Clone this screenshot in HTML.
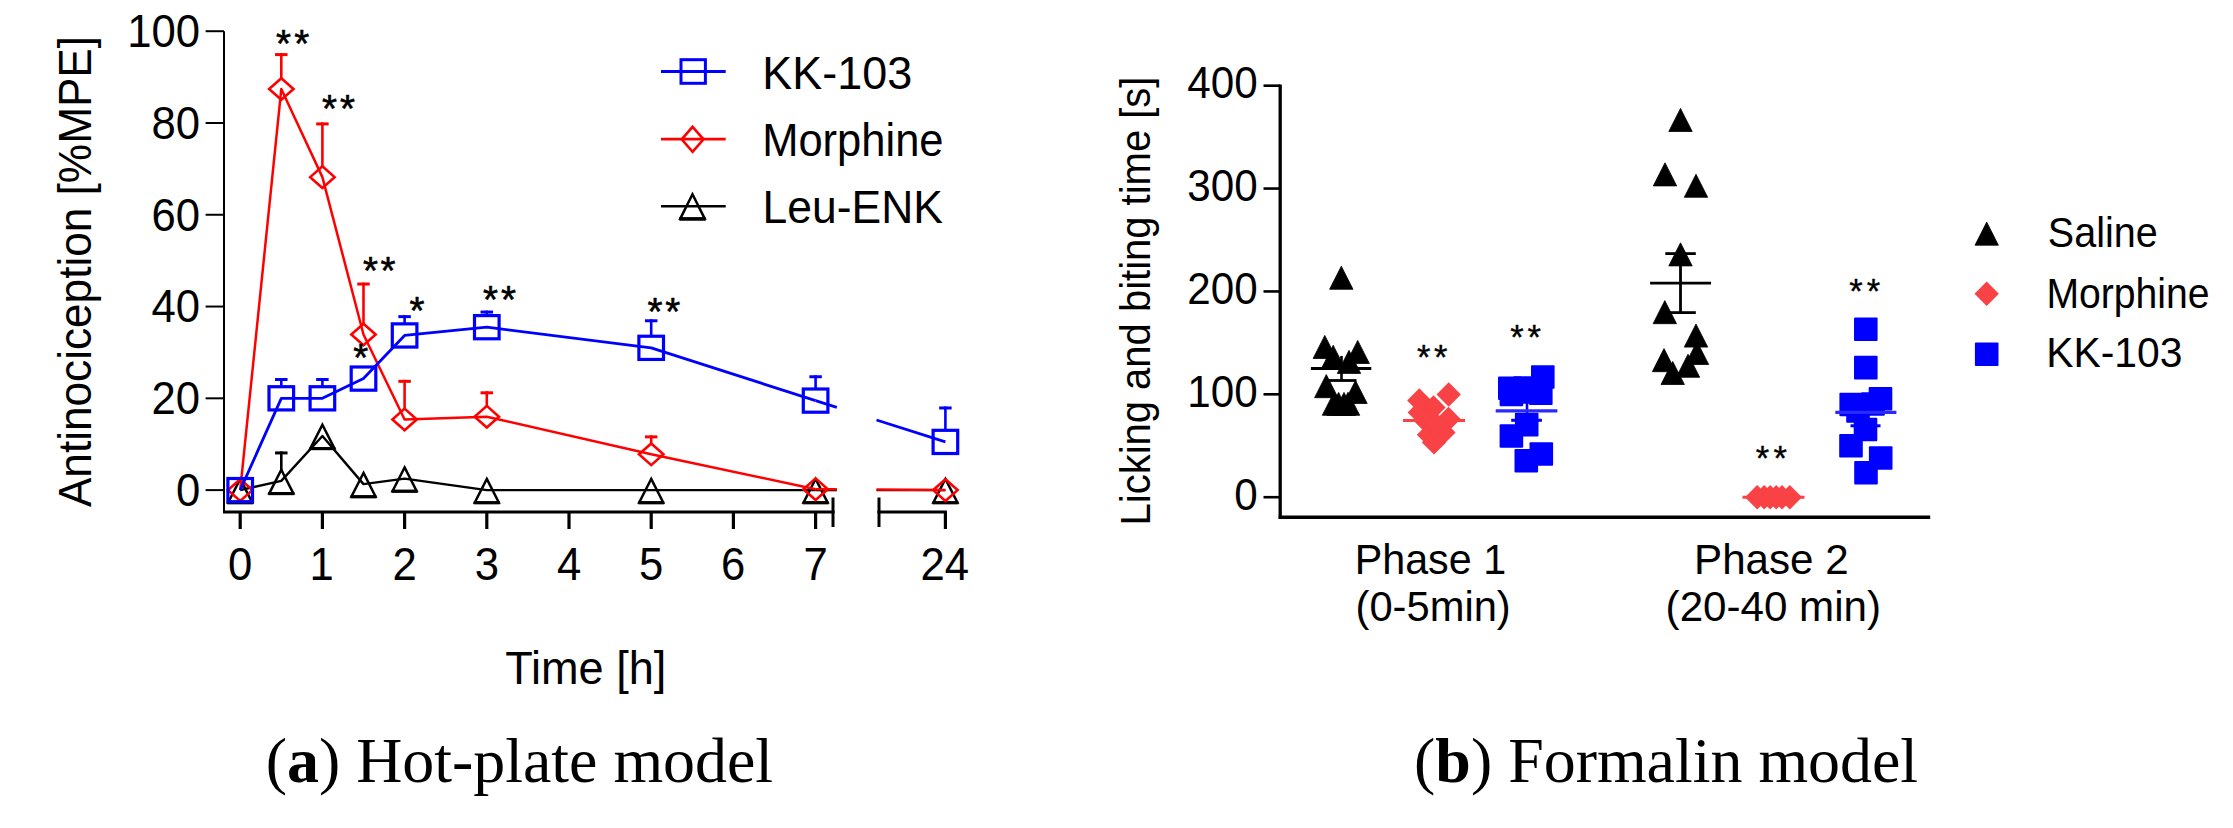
<!DOCTYPE html>
<html><head><meta charset="utf-8"><title>Figure</title>
<style>html,body{margin:0;padding:0;background:#fff;overflow:hidden}svg{display:block}</style>
</head><body>
<svg width="2233" height="828" viewBox="0 0 2233 828">
<rect width="2233" height="828" fill="#fff"/>
<line x1="224" y1="31.2" x2="224" y2="513" stroke="#000" stroke-width="2" stroke-linecap="butt"/>
<line x1="205.6" y1="490.1" x2="224" y2="490.1" stroke="#000" stroke-width="2" stroke-linecap="butt"/>
<line x1="205.6" y1="398.32" x2="224" y2="398.32" stroke="#000" stroke-width="2" stroke-linecap="butt"/>
<line x1="205.6" y1="306.54" x2="224" y2="306.54" stroke="#000" stroke-width="2" stroke-linecap="butt"/>
<line x1="205.6" y1="214.76" x2="224" y2="214.76" stroke="#000" stroke-width="2" stroke-linecap="butt"/>
<line x1="205.6" y1="122.98" x2="224" y2="122.98" stroke="#000" stroke-width="2" stroke-linecap="butt"/>
<line x1="205.6" y1="31.2" x2="224" y2="31.2" stroke="#000" stroke-width="2" stroke-linecap="butt"/>
<line x1="223" y1="512" x2="834.5" y2="512" stroke="#000" stroke-width="3" stroke-linecap="butt"/>
<line x1="833" y1="497.5" x2="833" y2="527" stroke="#000" stroke-width="3" stroke-linecap="butt"/>
<line x1="877.5" y1="512" x2="946.9" y2="512" stroke="#000" stroke-width="3" stroke-linecap="butt"/>
<line x1="879" y1="497.5" x2="879" y2="527" stroke="#000" stroke-width="3" stroke-linecap="butt"/>
<line x1="240.2" y1="512" x2="240.2" y2="529" stroke="#000" stroke-width="3.2" stroke-linecap="butt"/>
<line x1="322.4" y1="512" x2="322.4" y2="529" stroke="#000" stroke-width="3.2" stroke-linecap="butt"/>
<line x1="404.6" y1="512" x2="404.6" y2="529" stroke="#000" stroke-width="3.2" stroke-linecap="butt"/>
<line x1="486.8" y1="512" x2="486.8" y2="529" stroke="#000" stroke-width="3.2" stroke-linecap="butt"/>
<line x1="569" y1="512" x2="569" y2="529" stroke="#000" stroke-width="3.2" stroke-linecap="butt"/>
<line x1="651.2" y1="512" x2="651.2" y2="529" stroke="#000" stroke-width="3.2" stroke-linecap="butt"/>
<line x1="733.4" y1="512" x2="733.4" y2="529" stroke="#000" stroke-width="3.2" stroke-linecap="butt"/>
<line x1="815.6" y1="512" x2="815.6" y2="529" stroke="#000" stroke-width="3.2" stroke-linecap="butt"/>
<line x1="945.4" y1="512" x2="945.4" y2="529" stroke="#000" stroke-width="3.2" stroke-linecap="butt"/>
<text transform="translate(175.93,505.93) scale(0.95,1)" font-family="'Liberation Sans', Arial, sans-serif" font-size="46" fill="#000">0</text>
<text transform="translate(151.55,414.15) scale(0.95,1)" font-family="'Liberation Sans', Arial, sans-serif" font-size="46" fill="#000">20</text>
<text transform="translate(151.55,322.37) scale(0.95,1)" font-family="'Liberation Sans', Arial, sans-serif" font-size="46" fill="#000">40</text>
<text transform="translate(151.55,230.59) scale(0.95,1)" font-family="'Liberation Sans', Arial, sans-serif" font-size="46" fill="#000">60</text>
<text transform="translate(151.55,138.81) scale(0.95,1)" font-family="'Liberation Sans', Arial, sans-serif" font-size="46" fill="#000">80</text>
<text transform="translate(127.17,47.03) scale(0.95,1)" font-family="'Liberation Sans', Arial, sans-serif" font-size="46" fill="#000">100</text>
<text transform="translate(228.01,579.9) scale(0.95,1)" font-family="'Liberation Sans', Arial, sans-serif" font-size="46" fill="#000">0</text>
<text transform="translate(309.61,579.9) scale(0.95,1)" font-family="'Liberation Sans', Arial, sans-serif" font-size="46" fill="#000">1</text>
<text transform="translate(392.41,579.9) scale(0.95,1)" font-family="'Liberation Sans', Arial, sans-serif" font-size="46" fill="#000">2</text>
<text transform="translate(474.74,579.9) scale(0.95,1)" font-family="'Liberation Sans', Arial, sans-serif" font-size="46" fill="#000">3</text>
<text transform="translate(556.95,579.9) scale(0.95,1)" font-family="'Liberation Sans', Arial, sans-serif" font-size="46" fill="#000">4</text>
<text transform="translate(639.05,579.9) scale(0.95,1)" font-family="'Liberation Sans', Arial, sans-serif" font-size="46" fill="#000">5</text>
<text transform="translate(721.06,579.9) scale(0.95,1)" font-family="'Liberation Sans', Arial, sans-serif" font-size="46" fill="#000">6</text>
<text transform="translate(803.39,579.9) scale(0.95,1)" font-family="'Liberation Sans', Arial, sans-serif" font-size="46" fill="#000">7</text>
<text transform="translate(920.56,579.9) scale(0.95,1)" font-family="'Liberation Sans', Arial, sans-serif" font-size="46" fill="#000">24</text>
<text transform="translate(505.18,683.5) scale(0.98,1)" font-family="'Liberation Sans', Arial, sans-serif" font-size="46" fill="#000">Time [h]</text>
<text transform="translate(90.8,507.09) rotate(-90) scale(0.96,1)" font-family="'Liberation Sans', Arial, sans-serif" font-size="46" fill="#000">Antinociception [%MPE]</text>
<polyline points="240.2,490.1 281.3,480.92 322.4,435.95 363.5,484.13 404.6,478.63 486.8,490.1 651.2,490.1 815.6,490.1" fill="none" stroke="#000" stroke-width="2.4" stroke-linejoin="round"/>
<line x1="815.6" y1="490.1" x2="836.8" y2="490.1" stroke="#000" stroke-width="2.4" stroke-linecap="butt"/>
<line x1="876.5" y1="490.1" x2="945.4" y2="490.1" stroke="#000" stroke-width="2.4" stroke-linecap="butt"/>
<line x1="281.3" y1="470.92" x2="281.3" y2="451.43" stroke="#000" stroke-width="2.6" stroke-linecap="butt"/>
<line x1="275.05" y1="452.93" x2="287.55" y2="452.93" stroke="#000" stroke-width="3" stroke-linecap="butt"/>
<path d="M240.2 478.9L252.2 502.5L228.2 502.5Z" fill="none" stroke="#000" stroke-width="2.5" stroke-linejoin="miter" stroke-miterlimit="10"/>
<line x1="227.2" y1="502.8" x2="253.2" y2="502.8" stroke="#000" stroke-width="3.1" stroke-linecap="butt"/>
<path d="M281.3 469.72L293.3 493.32L269.3 493.32Z" fill="none" stroke="#000" stroke-width="2.5" stroke-linejoin="miter" stroke-miterlimit="10"/>
<line x1="268.3" y1="493.62" x2="294.3" y2="493.62" stroke="#000" stroke-width="3.1" stroke-linecap="butt"/>
<path d="M322.4 424.75L334.4 448.35L310.4 448.35Z" fill="none" stroke="#000" stroke-width="2.5" stroke-linejoin="miter" stroke-miterlimit="10"/>
<line x1="309.4" y1="448.65" x2="335.4" y2="448.65" stroke="#000" stroke-width="3.1" stroke-linecap="butt"/>
<path d="M363.5 472.93L375.5 496.53L351.5 496.53Z" fill="none" stroke="#000" stroke-width="2.5" stroke-linejoin="miter" stroke-miterlimit="10"/>
<line x1="350.5" y1="496.83" x2="376.5" y2="496.83" stroke="#000" stroke-width="3.1" stroke-linecap="butt"/>
<path d="M404.6 467.43L416.6 491.03L392.6 491.03Z" fill="none" stroke="#000" stroke-width="2.5" stroke-linejoin="miter" stroke-miterlimit="10"/>
<line x1="391.6" y1="491.33" x2="417.6" y2="491.33" stroke="#000" stroke-width="3.1" stroke-linecap="butt"/>
<path d="M486.8 478.9L498.8 502.5L474.8 502.5Z" fill="none" stroke="#000" stroke-width="2.5" stroke-linejoin="miter" stroke-miterlimit="10"/>
<line x1="473.8" y1="502.8" x2="499.8" y2="502.8" stroke="#000" stroke-width="3.1" stroke-linecap="butt"/>
<path d="M651.2 478.9L663.2 502.5L639.2 502.5Z" fill="none" stroke="#000" stroke-width="2.5" stroke-linejoin="miter" stroke-miterlimit="10"/>
<line x1="638.2" y1="502.8" x2="664.2" y2="502.8" stroke="#000" stroke-width="3.1" stroke-linecap="butt"/>
<path d="M815.6 478.9L827.6 502.5L803.6 502.5Z" fill="none" stroke="#000" stroke-width="2.5" stroke-linejoin="miter" stroke-miterlimit="10"/>
<line x1="802.6" y1="502.8" x2="828.6" y2="502.8" stroke="#000" stroke-width="3.1" stroke-linecap="butt"/>
<path d="M945.4 478.9L957.4 502.5L933.4 502.5Z" fill="none" stroke="#000" stroke-width="2.5" stroke-linejoin="miter" stroke-miterlimit="10"/>
<line x1="932.4" y1="502.8" x2="958.4" y2="502.8" stroke="#000" stroke-width="3.1" stroke-linecap="butt"/>
<polyline points="240.2,490.1 281.3,89.02 322.4,177.13 363.5,334.53 404.6,419.43 486.8,416.68 651.2,454.31 815.6,489.18" fill="none" stroke="#f00" stroke-width="2.5" stroke-linejoin="round"/>
<line x1="815.6" y1="489.18" x2="836.8" y2="489.33" stroke="#f00" stroke-width="2.5" stroke-linecap="butt"/>
<line x1="876.5" y1="489.61" x2="945.4" y2="490.1" stroke="#f00" stroke-width="2.5" stroke-linecap="butt"/>
<line x1="281.3" y1="78.52" x2="281.3" y2="53.1" stroke="#f00" stroke-width="2.6" stroke-linecap="butt"/>
<line x1="275.05" y1="54.6" x2="287.55" y2="54.6" stroke="#f00" stroke-width="3" stroke-linecap="butt"/>
<line x1="322.4" y1="166.63" x2="322.4" y2="122.4" stroke="#f00" stroke-width="2.6" stroke-linecap="butt"/>
<line x1="316.15" y1="123.9" x2="328.65" y2="123.9" stroke="#f00" stroke-width="3" stroke-linecap="butt"/>
<line x1="363.5" y1="324.03" x2="363.5" y2="282.55" stroke="#f00" stroke-width="2.6" stroke-linecap="butt"/>
<line x1="357.25" y1="284.05" x2="369.75" y2="284.05" stroke="#f00" stroke-width="3" stroke-linecap="butt"/>
<line x1="404.6" y1="408.93" x2="404.6" y2="379.84" stroke="#f00" stroke-width="2.6" stroke-linecap="butt"/>
<line x1="398.35" y1="381.34" x2="410.85" y2="381.34" stroke="#f00" stroke-width="3" stroke-linecap="butt"/>
<line x1="486.8" y1="406.18" x2="486.8" y2="391.31" stroke="#f00" stroke-width="2.6" stroke-linecap="butt"/>
<line x1="480.55" y1="392.81" x2="493.05" y2="392.81" stroke="#f00" stroke-width="3" stroke-linecap="butt"/>
<line x1="651.2" y1="443.81" x2="651.2" y2="435.37" stroke="#f00" stroke-width="2.6" stroke-linecap="butt"/>
<line x1="644.95" y1="436.87" x2="657.45" y2="436.87" stroke="#f00" stroke-width="3" stroke-linecap="butt"/>
<path d="M240.2 479.3L252.4 490.1L240.2 500.9L228 490.1Z" fill="none" stroke="#f00" stroke-width="2.6" stroke-linejoin="miter" stroke-miterlimit="10"/>
<path d="M281.3 78.22L293.5 89.02L281.3 99.82L269.1 89.02Z" fill="none" stroke="#f00" stroke-width="2.6" stroke-linejoin="miter" stroke-miterlimit="10"/>
<path d="M322.4 166.33L334.6 177.13L322.4 187.93L310.2 177.13Z" fill="none" stroke="#f00" stroke-width="2.6" stroke-linejoin="miter" stroke-miterlimit="10"/>
<path d="M363.5 323.73L375.7 334.53L363.5 345.33L351.3 334.53Z" fill="none" stroke="#f00" stroke-width="2.6" stroke-linejoin="miter" stroke-miterlimit="10"/>
<path d="M404.6 408.63L416.8 419.43L404.6 430.23L392.4 419.43Z" fill="none" stroke="#f00" stroke-width="2.6" stroke-linejoin="miter" stroke-miterlimit="10"/>
<path d="M486.8 405.88L499 416.68L486.8 427.48L474.6 416.68Z" fill="none" stroke="#f00" stroke-width="2.6" stroke-linejoin="miter" stroke-miterlimit="10"/>
<path d="M651.2 443.51L663.4 454.31L651.2 465.11L639 454.31Z" fill="none" stroke="#f00" stroke-width="2.6" stroke-linejoin="miter" stroke-miterlimit="10"/>
<path d="M815.6 478.38L827.8 489.18L815.6 499.98L803.4 489.18Z" fill="none" stroke="#f00" stroke-width="2.6" stroke-linejoin="miter" stroke-miterlimit="10"/>
<path d="M945.4 479.3L957.6 490.1L945.4 500.9L933.2 490.1Z" fill="none" stroke="#f00" stroke-width="2.6" stroke-linejoin="miter" stroke-miterlimit="10"/>
<polyline points="240.2,490.1 281.3,398.32 322.4,398.32 363.5,378.59 404.6,335.45 486.8,327.19 651.2,347.84 815.6,400.61" fill="none" stroke="#00f" stroke-width="2.8" stroke-linejoin="round"/>
<line x1="815.6" y1="400.61" x2="836.8" y2="407.36" stroke="#00f" stroke-width="2.8" stroke-linecap="butt"/>
<line x1="876.5" y1="419.99" x2="945.4" y2="441.92" stroke="#00f" stroke-width="2.8" stroke-linecap="butt"/>
<line x1="281.3" y1="387.32" x2="281.3" y2="378.01" stroke="#00f" stroke-width="2.6" stroke-linecap="butt"/>
<line x1="275.05" y1="379.51" x2="287.55" y2="379.51" stroke="#00f" stroke-width="3" stroke-linecap="butt"/>
<line x1="322.4" y1="387.32" x2="322.4" y2="378.01" stroke="#00f" stroke-width="2.6" stroke-linecap="butt"/>
<line x1="316.15" y1="379.51" x2="328.65" y2="379.51" stroke="#00f" stroke-width="3" stroke-linecap="butt"/>
<line x1="404.6" y1="324.45" x2="404.6" y2="315.14" stroke="#00f" stroke-width="2.6" stroke-linecap="butt"/>
<line x1="398.35" y1="316.64" x2="410.85" y2="316.64" stroke="#00f" stroke-width="3" stroke-linecap="butt"/>
<line x1="486.8" y1="316.19" x2="486.8" y2="310.55" stroke="#00f" stroke-width="2.6" stroke-linecap="butt"/>
<line x1="480.55" y1="312.05" x2="493.05" y2="312.05" stroke="#00f" stroke-width="3" stroke-linecap="butt"/>
<line x1="651.2" y1="336.84" x2="651.2" y2="319.27" stroke="#00f" stroke-width="2.6" stroke-linecap="butt"/>
<line x1="644.95" y1="320.77" x2="657.45" y2="320.77" stroke="#00f" stroke-width="3" stroke-linecap="butt"/>
<line x1="815.6" y1="389.61" x2="815.6" y2="375.25" stroke="#00f" stroke-width="2.6" stroke-linecap="butt"/>
<line x1="809.35" y1="376.75" x2="821.85" y2="376.75" stroke="#00f" stroke-width="3" stroke-linecap="butt"/>
<line x1="945.4" y1="430.92" x2="945.4" y2="406.46" stroke="#00f" stroke-width="2.6" stroke-linecap="butt"/>
<line x1="939.15" y1="407.96" x2="951.65" y2="407.96" stroke="#00f" stroke-width="3" stroke-linecap="butt"/>
<rect x="227.9" y="478.5" width="24.6" height="23.2" fill="none" stroke="#00f" stroke-width="3.2"/>
<rect x="269" y="386.72" width="24.6" height="23.2" fill="none" stroke="#00f" stroke-width="3.2"/>
<rect x="310.1" y="386.72" width="24.6" height="23.2" fill="none" stroke="#00f" stroke-width="3.2"/>
<rect x="351.2" y="366.99" width="24.6" height="23.2" fill="none" stroke="#00f" stroke-width="3.2"/>
<rect x="392.3" y="323.85" width="24.6" height="23.2" fill="none" stroke="#00f" stroke-width="3.2"/>
<rect x="474.5" y="315.59" width="24.6" height="23.2" fill="none" stroke="#00f" stroke-width="3.2"/>
<rect x="638.9" y="336.24" width="24.6" height="23.2" fill="none" stroke="#00f" stroke-width="3.2"/>
<rect x="803.3" y="389.01" width="24.6" height="23.2" fill="none" stroke="#00f" stroke-width="3.2"/>
<rect x="933.1" y="430.32" width="24.6" height="23.2" fill="none" stroke="#00f" stroke-width="3.2"/>
<line x1="661" y1="71.4" x2="725.7" y2="71.4" stroke="#00f" stroke-width="3" stroke-linecap="butt"/>
<rect x="681" y="59.7" width="24.4" height="23.6" fill="none" stroke="#00f" stroke-width="3"/>
<line x1="661" y1="139.2" x2="725.7" y2="139.2" stroke="#f00" stroke-width="2.7" stroke-linecap="butt"/>
<path d="M692.6 126.8L703.5 139.3L692.6 151.8L681.7 139.3Z" fill="none" stroke="#f00" stroke-width="2.6" stroke-linejoin="miter" stroke-miterlimit="10"/>
<line x1="661" y1="206.2" x2="725.7" y2="206.2" stroke="#000" stroke-width="2.5" stroke-linecap="butt"/>
<path d="M692.5 194.3L704.7 218.6L680.3 218.6Z" fill="none" stroke="#000" stroke-width="2.5" stroke-linejoin="miter" stroke-miterlimit="10"/>
<line x1="679.3" y1="219.05" x2="705.7" y2="219.05" stroke="#000" stroke-width="3.4" stroke-linecap="butt"/>
<text transform="translate(762.31,88.8) scale(0.97,1)" font-family="'Liberation Sans', Arial, sans-serif" font-size="46.3" fill="#000">KK-103</text>
<text transform="translate(762.13,155.6) scale(0.94,1)" font-family="'Liberation Sans', Arial, sans-serif" font-size="46.3" fill="#000">Morphine</text>
<text transform="translate(762.56,223.2) scale(0.96,1)" font-family="'Liberation Sans', Arial, sans-serif" font-size="46.3" fill="#000">Leu-ENK</text>
<text transform="translate(275.98,57.09) scale(1,1)" font-family="'Liberation Sans', Arial, sans-serif" font-size="38.5" fill="#000" stroke="#000" stroke-width="0.6" stroke-linejoin="round">*</text>
<text transform="translate(294.22,57.09) scale(1,1)" font-family="'Liberation Sans', Arial, sans-serif" font-size="38.5" fill="#000" stroke="#000" stroke-width="0.6" stroke-linejoin="round">*</text>
<text transform="translate(321.88,122.29) scale(1,1)" font-family="'Liberation Sans', Arial, sans-serif" font-size="38.5" fill="#000" stroke="#000" stroke-width="0.6" stroke-linejoin="round">*</text>
<text transform="translate(340.12,122.29) scale(1,1)" font-family="'Liberation Sans', Arial, sans-serif" font-size="38.5" fill="#000" stroke="#000" stroke-width="0.6" stroke-linejoin="round">*</text>
<text transform="translate(362.88,284.39) scale(1,1)" font-family="'Liberation Sans', Arial, sans-serif" font-size="38.5" fill="#000" stroke="#000" stroke-width="0.6" stroke-linejoin="round">*</text>
<text transform="translate(380.62,284.39) scale(1,1)" font-family="'Liberation Sans', Arial, sans-serif" font-size="38.5" fill="#000" stroke="#000" stroke-width="0.6" stroke-linejoin="round">*</text>
<text transform="translate(482.88,313.09) scale(1,1)" font-family="'Liberation Sans', Arial, sans-serif" font-size="38.5" fill="#000" stroke="#000" stroke-width="0.6" stroke-linejoin="round">*</text>
<text transform="translate(500.92,313.09) scale(1,1)" font-family="'Liberation Sans', Arial, sans-serif" font-size="38.5" fill="#000" stroke="#000" stroke-width="0.6" stroke-linejoin="round">*</text>
<text transform="translate(647.48,324.79) scale(1,1)" font-family="'Liberation Sans', Arial, sans-serif" font-size="38.5" fill="#000" stroke="#000" stroke-width="0.6" stroke-linejoin="round">*</text>
<text transform="translate(665.32,324.79) scale(1,1)" font-family="'Liberation Sans', Arial, sans-serif" font-size="38.5" fill="#000" stroke="#000" stroke-width="0.6" stroke-linejoin="round">*</text>
<text transform="translate(409.45,324.09) scale(1,1)" font-family="'Liberation Sans', Arial, sans-serif" font-size="38.5" fill="#000" stroke="#000" stroke-width="0.6" stroke-linejoin="round">*</text>
<text transform="translate(353.3,371.19) scale(1,1)" font-family="'Liberation Sans', Arial, sans-serif" font-size="38.5" fill="#000" stroke="#000" stroke-width="0.6" stroke-linejoin="round">*</text>
<text x="265.69" y="781.9" font-family="'Liberation Serif', 'Times New Roman', serif" font-size="63.9" fill="#000">(<tspan font-weight="bold">a</tspan>) Hot-plate model</text>
<text x="1414.09" y="782.1" font-family="'Liberation Serif', 'Times New Roman', serif" font-size="63.9" fill="#000">(<tspan font-weight="bold">b</tspan>) Formalin model</text>
<line x1="1280.2" y1="84.4" x2="1280.2" y2="519" stroke="#000" stroke-width="3.3" stroke-linecap="butt"/>
<line x1="1263.5" y1="497.2" x2="1280.2" y2="497.2" stroke="#000" stroke-width="2.6" stroke-linecap="butt"/>
<line x1="1263.5" y1="394.32" x2="1280.2" y2="394.32" stroke="#000" stroke-width="2.6" stroke-linecap="butt"/>
<line x1="1263.5" y1="291.44" x2="1280.2" y2="291.44" stroke="#000" stroke-width="2.6" stroke-linecap="butt"/>
<line x1="1263.5" y1="188.56" x2="1280.2" y2="188.56" stroke="#000" stroke-width="2.6" stroke-linecap="butt"/>
<line x1="1263.5" y1="85.68" x2="1280.2" y2="85.68" stroke="#000" stroke-width="2.6" stroke-linecap="butt"/>
<line x1="1278.7" y1="517.3" x2="1930.2" y2="517.3" stroke="#000" stroke-width="3.4" stroke-linecap="butt"/>
<text transform="translate(1234.31,509.67) scale(0.97,1)" font-family="'Liberation Sans', Arial, sans-serif" font-size="43.5" fill="#000">0</text>
<text transform="translate(1187.24,406.79) scale(0.97,1)" font-family="'Liberation Sans', Arial, sans-serif" font-size="43.5" fill="#000">100</text>
<text transform="translate(1187.24,303.91) scale(0.97,1)" font-family="'Liberation Sans', Arial, sans-serif" font-size="43.5" fill="#000">200</text>
<text transform="translate(1187.24,201.03) scale(0.97,1)" font-family="'Liberation Sans', Arial, sans-serif" font-size="43.5" fill="#000">300</text>
<text transform="translate(1187.24,98.15) scale(0.97,1)" font-family="'Liberation Sans', Arial, sans-serif" font-size="43.5" fill="#000">400</text>
<text transform="translate(1150.2,525.47) rotate(-90) scale(0.93,1)" font-family="'Liberation Sans', Arial, sans-serif" font-size="43" fill="#000">Licking and biting time [s]</text>
<text transform="translate(1354.7,574.4) scale(0.96,1)" font-family="'Liberation Sans', Arial, sans-serif" font-size="43" fill="#000">Phase 1</text>
<text transform="translate(1355.5,620.8) scale(0.97,1)" font-family="'Liberation Sans', Arial, sans-serif" font-size="43" fill="#000">(0-5min)</text>
<text transform="translate(1694.04,574.4) scale(0.98,1)" font-family="'Liberation Sans', Arial, sans-serif" font-size="43" fill="#000">Phase 2</text>
<text transform="translate(1665.6,620.8) scale(0.98,1)" font-family="'Liberation Sans', Arial, sans-serif" font-size="43" fill="#000">(20-40 min)</text>
<path d="M1341.3 266.2L1353 289.3L1329.6 289.3Z" fill="#000" stroke="#000" stroke-width="0.8" stroke-linejoin="round"/>
<path d="M1324.8 335.4L1336.5 358.5L1313.1 358.5Z" fill="#000" stroke="#000" stroke-width="0.8" stroke-linejoin="round"/>
<path d="M1333.2 345.3L1344.9 368.4L1321.5 368.4Z" fill="#000" stroke="#000" stroke-width="0.8" stroke-linejoin="round"/>
<path d="M1357.7 340.4L1369.4 363.5L1346 363.5Z" fill="#000" stroke="#000" stroke-width="0.8" stroke-linejoin="round"/>
<path d="M1349 350.3L1360.7 373.4L1337.3 373.4Z" fill="#000" stroke="#000" stroke-width="0.8" stroke-linejoin="round"/>
<path d="M1326.3 374.6L1338 397.7L1314.6 397.7Z" fill="#000" stroke="#000" stroke-width="0.8" stroke-linejoin="round"/>
<path d="M1355.5 380.4L1367.2 403.5L1343.8 403.5Z" fill="#000" stroke="#000" stroke-width="0.8" stroke-linejoin="round"/>
<path d="M1334 392.2L1345.7 415.3L1322.3 415.3Z" fill="#000" stroke="#000" stroke-width="0.8" stroke-linejoin="round"/>
<path d="M1338.6 392.4L1350.3 415.5L1326.9 415.5Z" fill="#000" stroke="#000" stroke-width="0.8" stroke-linejoin="round"/>
<path d="M1344 392.4L1355.7 415.5L1332.3 415.5Z" fill="#000" stroke="#000" stroke-width="0.8" stroke-linejoin="round"/>
<path d="M1348 392.2L1359.7 415.3L1336.3 415.3Z" fill="#000" stroke="#000" stroke-width="0.8" stroke-linejoin="round"/>
<line x1="1341.5" y1="356" x2="1341.5" y2="380.5" stroke="#000" stroke-width="2.6" stroke-linecap="butt"/>
<line x1="1326.5" y1="380.5" x2="1356.5" y2="380.5" stroke="#000" stroke-width="2.8" stroke-linecap="butt"/>
<line x1="1310.9" y1="368.4" x2="1371.3" y2="368.4" stroke="#000" stroke-width="3" stroke-linecap="butt"/>
<path d="M1419.3 388.3L1431.5 400.5L1419.3 412.7L1407.1 400.5Z" fill="#f94245"/>
<path d="M1448.7 382.3L1460.9 394.5L1448.7 406.7L1436.5 394.5Z" fill="#f94245"/>
<path d="M1433.5 395.3L1445.7 407.5L1433.5 419.7L1421.3 407.5Z" fill="#f94245"/>
<path d="M1448.5 406.8L1460.7 419L1448.5 431.2L1436.3 419Z" fill="#f94245"/>
<path d="M1419.8 400.2L1432 412.4L1419.8 424.6L1407.6 412.4Z" fill="#f94245"/>
<path d="M1425 407.8L1437.2 420L1425 432.2L1412.8 420Z" fill="#f94245"/>
<path d="M1443.4 420.3L1455.6 432.5L1443.4 444.7L1431.2 432.5Z" fill="#f94245"/>
<path d="M1429 422.5L1441.2 434.7L1429 446.9L1416.8 434.7Z" fill="#f94245"/>
<path d="M1434 430.2L1446.2 442.4L1434 454.6L1421.8 442.4Z" fill="#f94245"/>
<path d="M1436 412.3L1448.2 424.5L1436 436.7L1423.8 424.5Z" fill="#f94245"/>
<line x1="1403" y1="420.4" x2="1465" y2="420.4" stroke="#f94245" stroke-width="3" stroke-linecap="butt"/>
<rect x="1531" y="365.2" width="23.6" height="23.6" rx="1" fill="#0000ff"/>
<rect x="1498" y="376.4" width="23.6" height="23.6" rx="1" fill="#0000ff"/>
<rect x="1499.6" y="382.7" width="23.6" height="23.6" rx="1" fill="#0000ff"/>
<rect x="1529" y="381.5" width="23.6" height="23.6" rx="1" fill="#0000ff"/>
<rect x="1513.2" y="376.2" width="23.6" height="23.6" rx="1" fill="#0000ff"/>
<rect x="1513.2" y="380.2" width="23.6" height="23.6" rx="1" fill="#0000ff"/>
<rect x="1514.9" y="412.8" width="23.6" height="23.6" rx="1" fill="#0000ff"/>
<rect x="1499.6" y="424.2" width="23.6" height="23.6" rx="1" fill="#0000ff"/>
<rect x="1529.5" y="442.2" width="23.6" height="23.6" rx="1" fill="#0000ff"/>
<rect x="1514.5" y="448.9" width="23.6" height="23.6" rx="1" fill="#0000ff"/>
<line x1="1527" y1="400" x2="1527" y2="420.3" stroke="#00f" stroke-width="2.6" stroke-linecap="butt"/>
<line x1="1511.2" y1="420.3" x2="1541.9" y2="420.3" stroke="#00f" stroke-width="3" stroke-linecap="butt"/>
<line x1="1495.7" y1="410.8" x2="1557.4" y2="410.8" stroke="#2a2aff" stroke-width="3.2" stroke-linecap="butt"/>
<path d="M1680.5 108.4L1692.2 131.5L1668.8 131.5Z" fill="#000" stroke="#000" stroke-width="0.8" stroke-linejoin="round"/>
<path d="M1665 162.8L1676.7 185.9L1653.3 185.9Z" fill="#000" stroke="#000" stroke-width="0.8" stroke-linejoin="round"/>
<path d="M1696 174.2L1707.7 197.3L1684.3 197.3Z" fill="#000" stroke="#000" stroke-width="0.8" stroke-linejoin="round"/>
<path d="M1680.5 242.8L1692.2 265.9L1668.8 265.9Z" fill="#000" stroke="#000" stroke-width="0.8" stroke-linejoin="round"/>
<path d="M1664.8 300.6L1676.5 323.7L1653.1 323.7Z" fill="#000" stroke="#000" stroke-width="0.8" stroke-linejoin="round"/>
<path d="M1696 324L1707.7 347.1L1684.3 347.1Z" fill="#000" stroke="#000" stroke-width="0.8" stroke-linejoin="round"/>
<path d="M1697 341.4L1708.7 364.5L1685.3 364.5Z" fill="#000" stroke="#000" stroke-width="0.8" stroke-linejoin="round"/>
<path d="M1688 354.2L1699.7 377.3L1676.3 377.3Z" fill="#000" stroke="#000" stroke-width="0.8" stroke-linejoin="round"/>
<path d="M1664 348.6L1675.7 371.7L1652.3 371.7Z" fill="#000" stroke="#000" stroke-width="0.8" stroke-linejoin="round"/>
<path d="M1672.7 361.4L1684.4 384.5L1661 384.5Z" fill="#000" stroke="#000" stroke-width="0.8" stroke-linejoin="round"/>
<line x1="1680.5" y1="253.6" x2="1680.5" y2="312.6" stroke="#000" stroke-width="2.8" stroke-linecap="butt"/>
<line x1="1665.3" y1="253.6" x2="1695.8" y2="253.6" stroke="#000" stroke-width="2.8" stroke-linecap="butt"/>
<line x1="1665.3" y1="312.6" x2="1695.8" y2="312.6" stroke="#000" stroke-width="2.8" stroke-linecap="butt"/>
<line x1="1650.1" y1="283.2" x2="1711" y2="283.2" stroke="#000" stroke-width="2.8" stroke-linecap="butt"/>
<path d="M1757.2 485L1769.4 497.2L1757.2 509.4L1745 497.2Z" fill="#f94245"/>
<path d="M1764.2 485L1776.4 497.2L1764.2 509.4L1752 497.2Z" fill="#f94245"/>
<path d="M1770.2 485L1782.4 497.2L1770.2 509.4L1758 497.2Z" fill="#f94245"/>
<path d="M1776.2 485L1788.4 497.2L1776.2 509.4L1764 497.2Z" fill="#f94245"/>
<path d="M1782 485L1794.2 497.2L1782 509.4L1769.8 497.2Z" fill="#f94245"/>
<path d="M1789.8 485L1802 497.2L1789.8 509.4L1777.6 497.2Z" fill="#f94245"/>
<line x1="1742.5" y1="497.2" x2="1804.5" y2="497.2" stroke="#f94245" stroke-width="3" stroke-linecap="butt"/>
<rect x="1854" y="317.5" width="23.6" height="23.6" rx="1" fill="#0000ff"/>
<rect x="1854" y="355.8" width="23.6" height="23.6" rx="1" fill="#0000ff"/>
<rect x="1868.7" y="386.9" width="23.6" height="23.6" rx="1" fill="#0000ff"/>
<rect x="1839.4" y="392.7" width="23.6" height="23.6" rx="1" fill="#0000ff"/>
<rect x="1861.2" y="392.2" width="23.6" height="23.6" rx="1" fill="#0000ff"/>
<rect x="1846.2" y="399.2" width="23.6" height="23.6" rx="1" fill="#0000ff"/>
<rect x="1853.7" y="417.7" width="23.6" height="23.6" rx="1" fill="#0000ff"/>
<rect x="1839.2" y="434" width="23.6" height="23.6" rx="1" fill="#0000ff"/>
<rect x="1868.9" y="446.2" width="23.6" height="23.6" rx="1" fill="#0000ff"/>
<rect x="1854.2" y="460.9" width="23.6" height="23.6" rx="1" fill="#0000ff"/>
<line x1="1865.8" y1="398.8" x2="1865.8" y2="425.8" stroke="#00f" stroke-width="2.6" stroke-linecap="butt"/>
<line x1="1850.5" y1="425.8" x2="1880.5" y2="425.8" stroke="#00f" stroke-width="3" stroke-linecap="butt"/>
<line x1="1835.3" y1="412.3" x2="1896.4" y2="412.3" stroke="#2a2aff" stroke-width="3.2" stroke-linecap="butt"/>
<text transform="translate(1417.04,369.44) scale(1,1)" font-family="'Liberation Sans', Arial, sans-serif" font-size="34.5" fill="#000" stroke="#000" stroke-width="0.4" stroke-linejoin="round">*</text>
<text transform="translate(1434.01,369.44) scale(1,1)" font-family="'Liberation Sans', Arial, sans-serif" font-size="34.5" fill="#000" stroke="#000" stroke-width="0.4" stroke-linejoin="round">*</text>
<text transform="translate(1510.34,349.14) scale(1,1)" font-family="'Liberation Sans', Arial, sans-serif" font-size="34.5" fill="#000" stroke="#000" stroke-width="0.4" stroke-linejoin="round">*</text>
<text transform="translate(1527.51,349.14) scale(1,1)" font-family="'Liberation Sans', Arial, sans-serif" font-size="34.5" fill="#000" stroke="#000" stroke-width="0.4" stroke-linejoin="round">*</text>
<text transform="translate(1755.64,470.44) scale(1,1)" font-family="'Liberation Sans', Arial, sans-serif" font-size="34.5" fill="#000" stroke="#000" stroke-width="0.4" stroke-linejoin="round">*</text>
<text transform="translate(1773.41,470.44) scale(1,1)" font-family="'Liberation Sans', Arial, sans-serif" font-size="34.5" fill="#000" stroke="#000" stroke-width="0.4" stroke-linejoin="round">*</text>
<text transform="translate(1849.24,302.84) scale(1,1)" font-family="'Liberation Sans', Arial, sans-serif" font-size="34.5" fill="#000" stroke="#000" stroke-width="0.4" stroke-linejoin="round">*</text>
<text transform="translate(1866.71,302.84) scale(1,1)" font-family="'Liberation Sans', Arial, sans-serif" font-size="34.5" fill="#000" stroke="#000" stroke-width="0.4" stroke-linejoin="round">*</text>
<path d="M1986.7 222.1L1998.4 245.2L1975 245.2Z" fill="#000" stroke="#000" stroke-width="0.8" stroke-linejoin="round"/>
<path d="M1986.7 281.6L1998.9 293.8L1986.7 306L1974.5 293.8Z" fill="#f94245"/>
<rect x="1974.9" y="342.5" width="23.6" height="23.6" rx="1" fill="#0000ff"/>
<text transform="translate(2047.81,246.7) scale(0.92,1)" font-family="'Liberation Sans', Arial, sans-serif" font-size="43" fill="#000">Saline</text>
<text transform="translate(2046.39,307.6) scale(0.91,1)" font-family="'Liberation Sans', Arial, sans-serif" font-size="43" fill="#000">Morphine</text>
<text transform="translate(2046.25,367.4) scale(0.95,1)" font-family="'Liberation Sans', Arial, sans-serif" font-size="43" fill="#000">KK-103</text>
</svg>
</body></html>
